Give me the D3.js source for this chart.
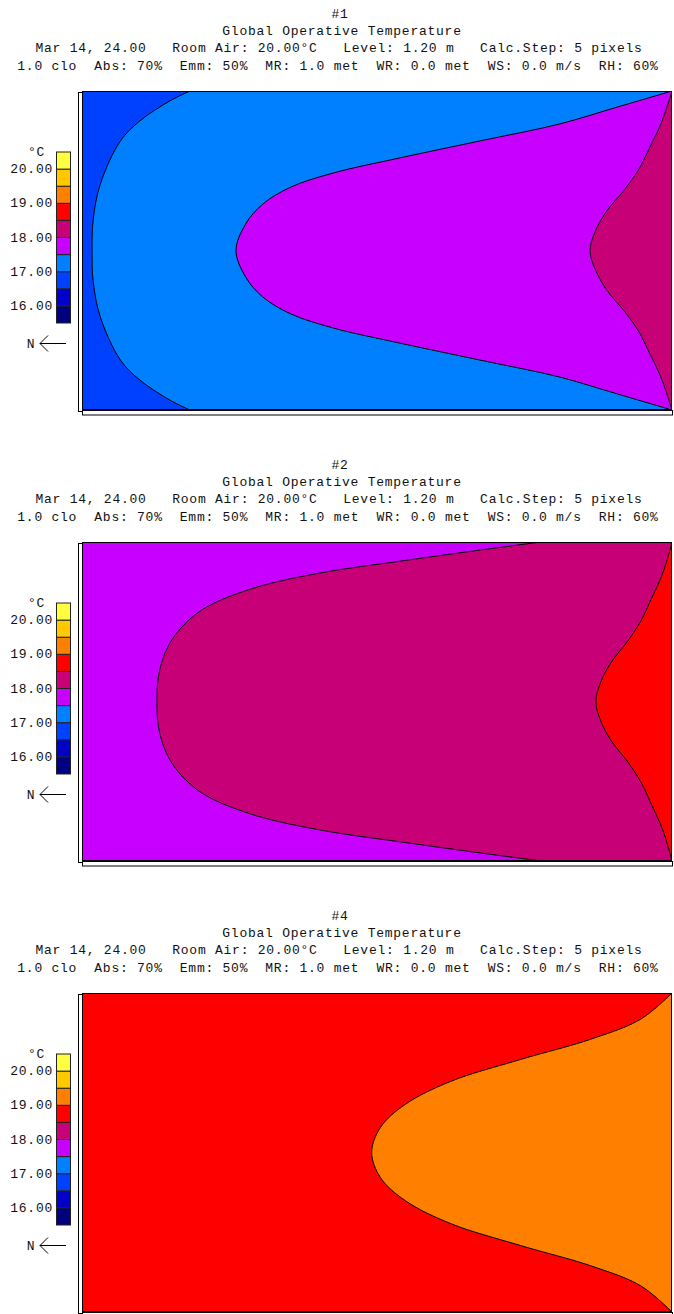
<!DOCTYPE html>
<html><head><meta charset="utf-8">
<script src="https://cdn.jsdelivr.net/npm/d3@7"></script>
<style>body{margin:0;background:#fff} svg{display:block}</style>
</head><body><svg id="c" width="674" height="1314"></svg>
<script>
// ---------- data ----------
const panelIds = ["#1", "#2", "#4"];
const titleText = "Global Operative Temperature";
const infoLine1 = "Mar 14, 24.00   Room Air: 20.00°C   Level: 1.20 m   Calc.Step: 5 pixels";
const infoLine2 = "1.0 clo  Abs: 70%  Emm: 50%  MR: 1.0 met  WR: 0.0 met  WS: 0.0 m/s  RH: 60%";
const bandEdges = [16, 16.5, 17, 17.5, 18, 18.5, 19, 19.5, 20];
const bandColors = ["#000080", "#0000C8", "#0040FF", "#0080FF", "#C800FF", "#C80078", "#FF0000", "#FF8000", "#FFC800", "#FFFF40"];
const legendRange = [15.5, 20.5];
const legendTicks = [16, 17, 18, 19, 20];
const unitLabel = "°C";
const northLabel = "N";

// contour boundaries, room coordinates (% of length, % of width)
const p1BaseTemp = 17.25;
const p1WestTemp = 16.75;
const p1WestX = [18.3, 14.9, 9.8, 6.5, 3.1, 1.9, 1.7, 1.9, 3.1, 6.5, 9.8, 14.9, 18.3];
const p1WestY = [0, 3.1, 9.4, 15.7, 29.2, 40.3, 50, 59.7, 70.8, 84.3, 90.6, 96.9, 100];
const p1MidTemp = 17.75;
const p1MidX = [100, 90.8, 80.8, 68.1, 54.3, 42.4, 35.3, 30.6, 27.7, 26.1, 27.7, 30.6, 35.3, 42.4, 54.3, 68.1, 80.8, 90.8, 100];
const p1MidY = [0, 5.0, 10.4, 15.4, 20.8, 25.8, 30.2, 35.5, 41.8, 50, 58.2, 64.5, 69.8, 74.2, 79.2, 84.6, 89.6, 95.0, 100];
const p1EastTemp = 18.25;
const p1EastX = [100, 99.3, 98.1, 96.1, 94.4, 92.0, 88.9, 87.0, 86.1, 87.0, 88.9, 92.0, 94.4, 96.1, 98.1, 99.3, 100];
const p1EastY = [0, 4.1, 10.4, 18.2, 24.5, 30.8, 37.7, 44.0, 50, 56.0, 62.3, 69.2, 75.5, 81.8, 89.6, 95.9, 100];

const p2BaseTemp = 18.25;
const p2WestTemp = 17.75;
const p2WestX = [77.8, 67.6, 54.0, 40.4, 28.5, 20.0, 15.3, 13.2, 12.7, 13.2, 15.3, 20.0, 28.5, 40.4, 54.0, 67.6, 77.8];
const p2WestY = [0, 2.5, 6.0, 9.7, 14.8, 21.7, 30.5, 39.9, 50, 60.1, 69.5, 78.3, 85.2, 90.3, 94.0, 97.5, 100];
const p2EastTemp = 18.75;
const p2EastX = [100, 99.4, 98.3, 96.4, 94.8, 92.6, 89.7, 87.9, 87.1, 87.9, 89.7, 92.6, 94.8, 96.4, 98.3, 99.4, 100];
const p2EastY = [0, 4.1, 10.4, 18.2, 24.5, 30.8, 37.7, 44.0, 50, 56.0, 62.3, 69.2, 75.5, 81.8, 89.6, 95.9, 100];

const p4BaseTemp = 18.75;
const p4EastTemp = 19.25;
const p4EastX = [100, 94.7, 86.2, 74.4, 62.5, 54.8, 50.6, 49.1, 50.6, 54.8, 62.5, 74.4, 86.2, 94.7, 100];
const p4EastY = [0, 8.2, 14.5, 20.8, 27.7, 34.9, 42.1, 50, 57.9, 65.1, 72.3, 79.2, 85.5, 91.8, 100];

const panels = [
  { id: panelIds[0], base: p1BaseTemp, curves: [
    { temp: p1WestTemp, side: "left", xs: p1WestX, ys: p1WestY },
    { temp: p1MidTemp, side: "right", xs: p1MidX, ys: p1MidY },
    { temp: p1EastTemp, side: "right", xs: p1EastX, ys: p1EastY } ] },
  { id: panelIds[1], base: p2BaseTemp, curves: [
    { temp: p2WestTemp, side: "left", xs: p2WestX, ys: p2WestY },
    { temp: p2EastTemp, side: "right", xs: p2EastX, ys: p2EastY } ] },
  { id: panelIds[2], base: p4BaseTemp, curves: [
    { temp: p4EastTemp, side: "right", xs: p4EastX, ys: p4EastY } ] }
];

// ---------- drawing ----------
const svg = d3.select("#c");
const FONT = "'Liberation Mono', 'DejaVu Sans Mono', monospace";
const panelStep = 451, plotLeft = 82, plotTop = 91, plotW = 590, plotH = 319;
const color = d3.scaleThreshold().domain(bandEdges).range(bandColors);
const x = d3.scaleLinear().domain([0, 100]).range([plotLeft, plotLeft + plotW]);
const y = d3.scaleLinear().domain([0, 100]).range([plotTop, plotTop + plotH]);
const ly = d3.scaleLinear().domain(legendRange).range([323, 152]);
const line = d3.line().x(d => x(d[0])).y(d => y(d[1])).curve(d3.curveCatmullRom.alpha(0.5));

function txt(g, s, tx, ty, anchor) {
  return g.append("text").attr("x", tx).attr("y", ty).attr("text-anchor", anchor || "middle")
    .style("font-family", FONT).style("font-size", "13px").style("letter-spacing", "0.75px")
    .style("white-space", "pre").attr("fill", "#111").text(s);
}

panels.forEach((p, i) => {
  const g = svg.append("g").attr("transform", `translate(0,${i * panelStep})`);
  txt(g, p.id, 340, 18);
  txt(g, titleText, 342, 35);
  txt(g, infoLine1, 339, 52);
  txt(g, infoLine2, 338, 70);

  // 3D frame strips
  g.append("rect").attr("x", 78.5).attr("y", plotTop + 1.5).attr("width", 4).attr("height", plotH)
    .attr("fill", "#fff").attr("stroke", "#000").attr("stroke-width", 1);
  g.append("rect").attr("x", plotLeft + 0.5).attr("y", plotTop + plotH + 0.5).attr("width", plotW).attr("height", 4.5)
    .attr("fill", "#fff").attr("stroke", "#000").attr("stroke-width", 1);

  const clipId = "clip" + i;
  g.append("clipPath").attr("id", clipId).append("rect")
    .attr("x", x(0)).attr("y", y(0)).attr("width", plotW).attr("height", plotH);
  const pg = g.append("g").attr("clip-path", `url(#${clipId})`);
  pg.append("rect").attr("x", x(0)).attr("y", y(0)).attr("width", plotW).attr("height", plotH)
    .attr("fill", color(p.base));
  p.curves.forEach(c => {
    const pts = c.xs.map((v, k) => [v, c.ys[k]]);
    let d = line(pts);
    if (c.side === "left") d += `L${x(0)},${y(100)}L${x(0)},${y(0)}Z`; else d += "Z";
    pg.append("path").attr("d", d).attr("fill", color(c.temp));
  });
  p.curves.forEach(c => {
    const pts = c.xs.map((v, k) => [v, c.ys[k]]);
    pg.append("path").attr("d", line(pts)).attr("fill", "none").attr("stroke", "#000").attr("stroke-width", 1);
  });
  g.append("rect").attr("x", x(0) + 0.5).attr("y", y(0) + 0.5).attr("width", plotW - 1).attr("height", plotH - 1)
    .attr("fill", "none").attr("stroke", "#000").attr("stroke-width", 1);

  // legend
  const lows = [legendRange[0], ...bandEdges];
  const highs = [...bandEdges, legendRange[1]];
  lows.forEach((lo, k) => {
    g.append("rect").attr("x", 56.5).attr("y", ly(highs[k])).attr("width", 14).attr("height", ly(lo) - ly(highs[k]))
      .attr("fill", color((lo + highs[k]) / 2)).attr("stroke", "#222").attr("stroke-width", 1);
  });
  legendTicks.forEach(t => txt(g, t.toFixed(2), 53, ly(t) + 4, "end"));
  txt(g, unitLabel, 45, 156, "end");

  // north arrow
  txt(g, northLabel, 31, 348);
  const ay = 343.5;
  g.append("path").attr("d", `M40,${ay}L66,${ay}M48,${ay - 8}L40,${ay}L48,${ay + 8}`)
    .attr("fill", "none").attr("stroke", "#000").attr("stroke-width", 1);
});
</script></body></html>
